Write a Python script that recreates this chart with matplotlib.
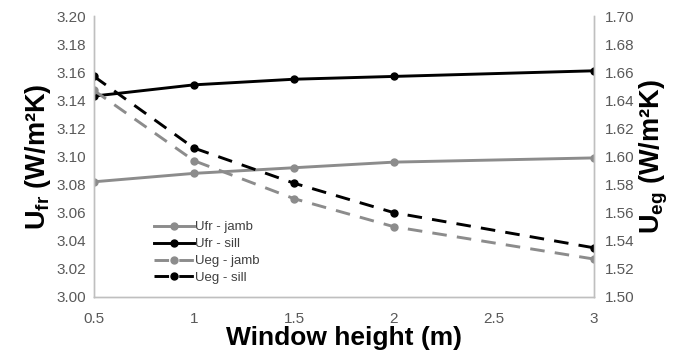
import matplotlib
matplotlib.use("Agg")
import matplotlib.pyplot as plt

# data
heights = [0.5, 1, 1.5, 2, 3]
ufr_jamb = [3.082, 3.088, 3.092, 3.096, 3.099]
ufr_sill = [3.143, 3.151, 3.155, 3.157, 3.161]
ueg_jamb = [1.647, 1.597, 1.570, 1.550, 1.527]
ueg_sill = [1.657, 1.606, 1.581, 1.560, 1.535]
x_ticks = [0.5, 1, 1.5, 2, 2.5, 3]
left_ticks = [3.00, 3.02, 3.04, 3.06, 3.08, 3.10, 3.12, 3.14, 3.16, 3.18, 3.20]
right_ticks = [1.50, 1.52, 1.54, 1.56, 1.58, 1.60, 1.62, 1.64, 1.66, 1.68, 1.70]

plt.rcParams["font.family"] = ["Liberation Sans", "DejaVu Sans"]
plt.rcParams["mathtext.fontset"] = "custom"
plt.rcParams["mathtext.rm"] = "Liberation Sans"
plt.rcParams["mathtext.bf"] = "Liberation Sans:bold"

GRAY = "#8c8c8c"
SPINE = "#bfbfbf"
TICK = "#595959"

fig = plt.figure(figsize=(6.75, 3.63), dpi=100)
ax = fig.add_axes([94 / 675, 1 - 297 / 363, 500 / 675, 281 / 363])
ax2 = ax.twinx()

lw = 2.1
ms = 5
h1, = ax.plot(heights, ufr_jamb, color=GRAY, lw=lw, marker="o", ms=ms, label="Ufr - jamb")
h2, = ax.plot(heights, ufr_sill, color="black", lw=lw, marker="o", ms=ms, label="Ufr - sill")
h3, = ax2.plot(heights, ueg_jamb, color=GRAY, lw=lw, marker="o", ms=ms,
               dashes=(5, 3.5), label="Ueg - jamb")
h4, = ax2.plot(heights, ueg_sill, color="black", lw=lw, marker="o", ms=ms,
               dashes=(5, 3.5), label="Ueg - sill")

ax.set_xlim(0.5, 3)
ax.set_ylim(3.00, 3.20)
ax2.set_ylim(1.50, 1.70)
ax.set_xticks(x_ticks)
ax.set_xticklabels(["0.5", "1", "1.5", "2", "2.5", "3"])
ax.set_yticks(left_ticks)
ax.set_yticklabels([f"{v:.2f}" for v in left_ticks])
ax2.set_yticks(right_ticks)
ax2.set_yticklabels([f"{v:.2f}" for v in right_ticks])

for a in (ax, ax2):
    a.tick_params(length=0, labelsize=11, labelcolor=TICK)
    a.spines["top"].set_visible(False)
    for s in ("left", "right", "bottom"):
        a.spines[s].set_color(SPINE)
        a.spines[s].set_linewidth(1.0)
ax.tick_params(axis="x", pad=11)
ax.tick_params(axis="y", pad=6)
ax2.tick_params(axis="y", pad=8)

ax.set_xlabel("Window height (m)", fontsize=19, fontweight="bold", labelpad=0)
ax.set_ylabel(r"U$_{\mathbf{fr}}$ (W/m²K)", fontsize=19.5, fontweight="bold", labelpad=2)
ax2.set_ylabel(r"U$_{\mathbf{eg}}$ (W/m²K)", fontsize=19.5, fontweight="bold", labelpad=2)

leg = ax2.legend(handles=[h1, h2, h3, h4], loc="upper left",
                 bbox_to_anchor=(145 / 675, 1 - 212 / 363), bbox_transform=fig.transFigure,
                 frameon=False, fontsize=9.5, handlelength=3.0, handletextpad=0.1,
                 labelspacing=0.35, borderpad=0.2)
for t in leg.get_texts():
    t.set_color("#404040")

fig.savefig("out.png", dpi=100)
